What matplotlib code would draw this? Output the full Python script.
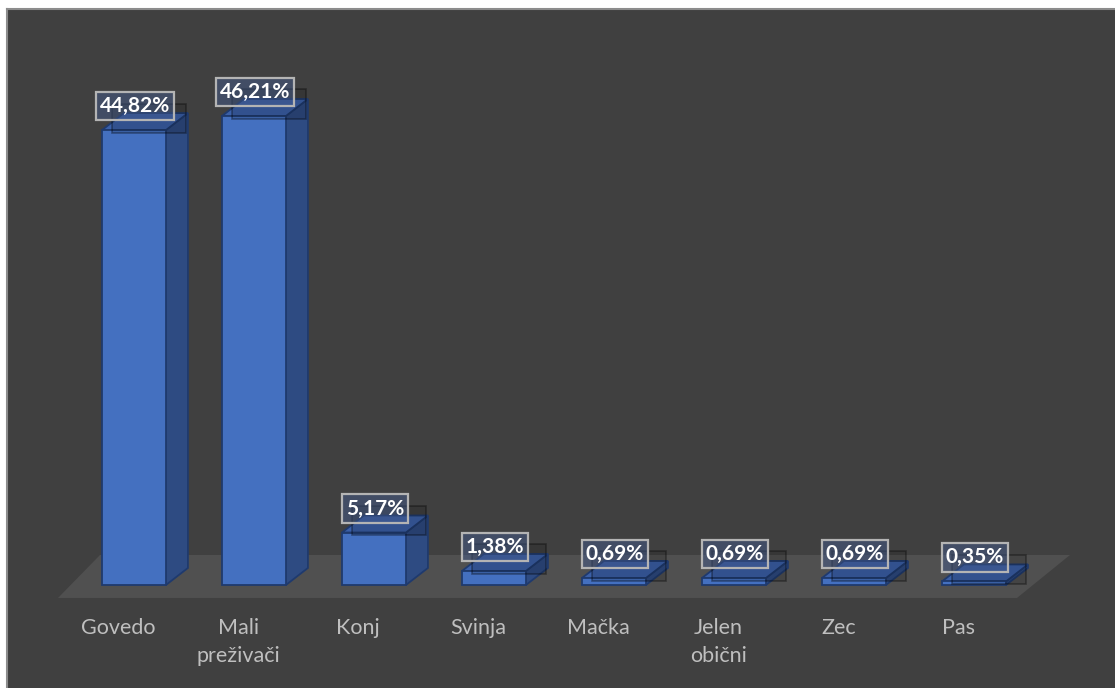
import matplotlib.pyplot as plt
from matplotlib.patches import Polygon, Rectangle

categories = ["Govedo", "Mali\npreživači", "Konj", "Svinja", "Mačka",
              "Jelen\nobični", "Zec", "Pas"]
values = [44.82, 46.21, 5.17, 1.38, 0.69, 0.69, 0.69, 0.35]
value_labels = ["44,82%", "46,21%", "5,17%", "1,38%", "0,69%", "0,69%",
                "0,69%", "0,35%"]

BG = "#404040"
FLOOR = "#505050"
FRONT = "#4470c0"
SIDE = "#2e4b82"
TOP = "#3b60a8"
EDGE = "#1f3a6e"

W, H = 1115, 688
fig = plt.figure(figsize=(W / 100, H / 100), dpi=100)
fig.patch.set_facecolor("white")
# chart area starts a few px in from the top-left corner
ax = fig.add_axes([7 / W, 0, (W - 7) / W, (H - 9) / H])
ax.set_facecolor(BG)

# x: category index, y: percent
ax.set_xlim(-1.058, 8.175)
ax.set_ylim(-10.15, 56.75)
ax.set_xticks([])
ax.set_yticks([])
for s in ["right", "bottom"]:
    ax.spines[s].set_visible(False)
for s in ["top", "left"]:
    ax.spines[s].set_color("#8c8c8c")
    ax.spines[s].set_linewidth(1.5)

bw = 0.533     # bar width
dx = 0.183     # depth shift in x
dy = 1.675     # depth shift in y

# floor
floor = Polygon([(-0.633, -1.28), (7.358, -1.28), (7.80, 2.956), (-0.283, 2.956)],
                closed=True, facecolor=FLOOR, edgecolor="none", zorder=1)
ax.add_patch(floor)

# label shadow box size / offset (data units)
sw, sh = 0.617, 2.86
sx, sy = 0.125, 1.18

for i, v in enumerate(values):
    x0, x1 = i - bw / 2, i + bw / 2
    side = Polygon([(x1, 0), (x1 + dx, dy), (x1 + dx, v + dy), (x1, v)],
                   facecolor=SIDE, edgecolor=EDGE, lw=1.3, zorder=2)
    top = Polygon([(x0, v), (x1, v), (x1 + dx, v + dy), (x0 + dx, v + dy)],
                  facecolor=TOP, edgecolor=EDGE, lw=1.3, zorder=2)
    ax.add_patch(side)
    ax.add_patch(top)
    ax.bar(i, v, width=bw, bottom=0, color=FRONT, edgecolor=EDGE, lw=1.3,
           zorder=3)

    # faint shadow of the label box
    ax.add_patch(Rectangle((i + sx - sw / 2, v + sy - sh / 2), sw, sh,
                           facecolor=(0, 0, 0, 0.15),
                           edgecolor=(0, 0, 0, 0.35), lw=1.2, zorder=4))
    ax.annotate(value_labels[i], (i, v), xytext=(1, 24),
                textcoords="offset pixels", ha="center", va="center",
                fontsize=15, fontweight="bold", family="Lato", color="white",
                bbox=dict(boxstyle="square,pad=0.2",
                          facecolor=(0.27, 0.37, 0.58, 0.45),
                          edgecolor="#b4b4b4", lw=1.6), zorder=5)

    # category label
    ax.text(i - 0.13, -3.3, categories[i], ha="center", va="top",
            fontsize=15.5, family="Lato", color="#bfbfbf", linespacing=1.5,
            zorder=5)

fig.savefig("out.png", dpi=100, facecolor=fig.get_facecolor())
